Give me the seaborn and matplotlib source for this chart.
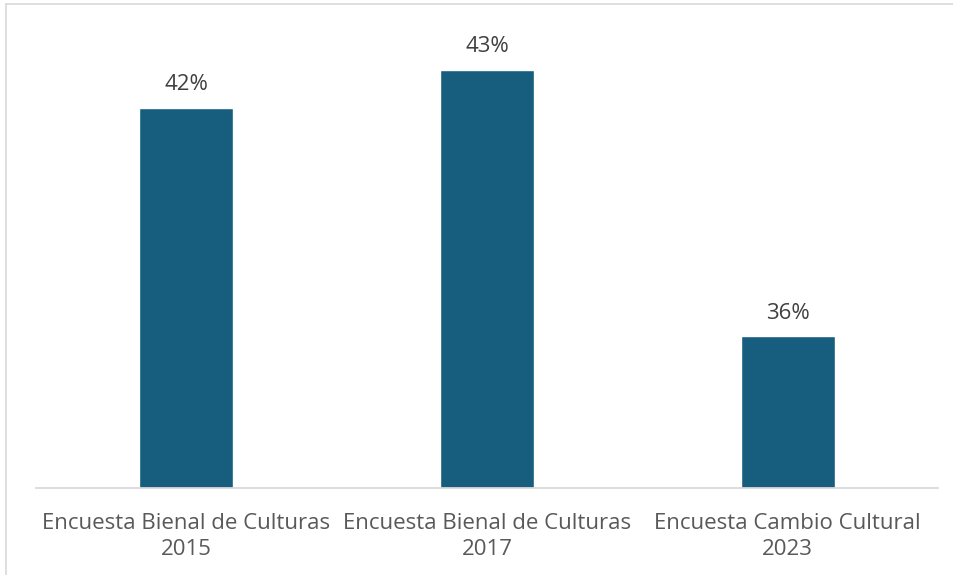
import matplotlib
matplotlib.use("Agg")
import matplotlib.pyplot as plt
import seaborn as sns
import pandas as pd
from matplotlib.lines import Line2D

categories = ["Encuesta Bienal de Culturas\n2015",
              "Encuesta Bienal de Culturas\n2017",
              "Encuesta Cambio Cultural\n2023"]
values = [0.42, 0.43, 0.36]
value_labels = ["42%", "43%", "36%"]

sns.set_theme(style="white")
plt.rcParams['font.family'] = ['Open Sans', 'DejaVu Sans']

df = pd.DataFrame({"cat": categories, "val": values})

fig = plt.figure(figsize=(9.54, 5.75), dpi=100)
W, H = 954, 575
ax = fig.add_axes([36 / W, 1 - 488 / H, 902 / W, (488 - 32) / H])

sns.barplot(data=df, x="cat", y="val", color="#175E7E", saturation=1,
            width=0.313, ax=ax)
ax.set_ylim(0.32, 0.44)
ax.set_xlim(-0.5, 2.5)
ax.set_xlabel("")
ax.set_ylabel("")
ax.set_yticks([])
for s in ["top", "right", "left"]:
    ax.spines[s].set_visible(False)
ax.spines["bottom"].set_color("#D9D9D9")
ax.spines["bottom"].set_linewidth(1.3)
ax.tick_params(axis="x", length=0, pad=18, labelsize=16, colors="#595959")
for lbl in ax.get_xticklabels():
    lbl.set_horizontalalignment("center")
    lbl.set_multialignment("center")
    lbl.set_linespacing(1.34)

for i, (v, t) in enumerate(zip(values, value_labels)):
    ax.annotate(t, (i, v), xytext=(0, 9), textcoords="offset points",
                ha="center", va="bottom", fontsize=16, color="#404040")

# outer chart border (top and left visible)
fig.lines.append(Line2D([6 / W, 1.0], [1 - 4 / H, 1 - 4 / H],
                        transform=fig.transFigure, color="#D9D9D9", linewidth=1.2))
fig.lines.append(Line2D([6 / W, 6 / W], [0.0, 1 - 4 / H],
                        transform=fig.transFigure, color="#D9D9D9", linewidth=1.2))

fig.savefig("out.png", dpi=100, facecolor="white")
